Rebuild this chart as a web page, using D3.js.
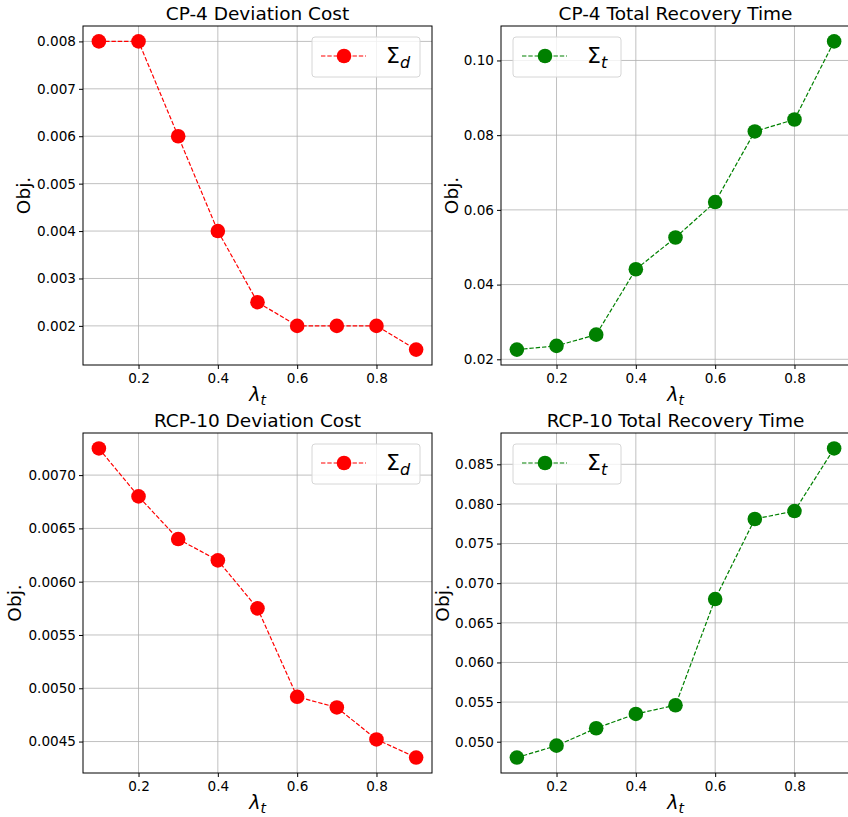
<!DOCTYPE html>
<html>
<head>
<meta charset="utf-8">
<script src="https://cdn.jsdelivr.net/npm/d3@7"></script>
<style>
  body { margin: 0; background: #fff; }
  svg { font-family: "DejaVu Sans", sans-serif; }
  .grid line { stroke: #b0b0b0; stroke-width: 0.8; }
</style>
</head>
<body>
<div id="chart"></div>
<script>
var lambdaValues = [0.1, 0.2, 0.3, 0.4, 0.5, 0.6, 0.7, 0.8, 0.9];
var cp4Deviation = [0.008, 0.008, 0.006, 0.004, 0.0025, 0.002, 0.002, 0.002, 0.0015];
var cp4Recovery = [0.0226, 0.0236, 0.0266, 0.0441, 0.0526, 0.0621, 0.081, 0.0842, 0.1051];
var rcp10Deviation = [0.00725, 0.0068, 0.0064, 0.0062, 0.00575, 0.00492, 0.00482, 0.00452, 0.00435];
var rcp10Recovery = [0.0480, 0.0495, 0.0517, 0.0535, 0.0546, 0.0680, 0.0781, 0.0791, 0.0870];

var xTicks = [0.2, 0.4, 0.6, 0.8];
var cp4DevTicks = [0.002, 0.003, 0.004, 0.005, 0.006, 0.007, 0.008];
var cp4RecTicks = [0.02, 0.04, 0.06, 0.08, 0.10];
var rcp10DevTicks = [0.0045, 0.0050, 0.0055, 0.0060, 0.0065, 0.0070];
var rcp10RecTicks = [0.050, 0.055, 0.060, 0.065, 0.070, 0.075, 0.080, 0.085];

var titles = ['CP-4 Deviation Cost', 'CP-4 Total Recovery Time', 'RCP-10 Deviation Cost', 'RCP-10 Total Recovery Time'];

var W = 848, H = 817;
var svg = d3.select('#chart').append('svg').attr('width', W).attr('height', H);

var panels = [
  {title: titles[0], values: cp4Deviation, ticks: cp4DevTicks, fmt: '.3f', color: 'red', sub: 'd', x0: 83, x1: 432, y0: 26, y1: 365, legend: 'right', labelX: 24},
  {title: titles[1], values: cp4Recovery, ticks: cp4RecTicks, fmt: '.2f', color: 'green', sub: 't', x0: 501, x1: 850, y0: 26, y1: 365, legend: 'left', labelX: 452},
  {title: titles[2], values: rcp10Deviation, ticks: rcp10DevTicks, fmt: '.4f', color: 'red', sub: 'd', x0: 83, x1: 432, y0: 433, y1: 773, legend: 'right', labelX: 15},
  {title: titles[3], values: rcp10Recovery, ticks: rcp10RecTicks, fmt: '.3f', color: 'green', sub: 't', x0: 501, x1: 850, y0: 433, y1: 773, legend: 'left', labelX: 443}
];

function padded(ext) {
  var m = (ext[1] - ext[0]) * 0.05;
  return [ext[0] - m, ext[1] + m];
}

panels.forEach(function(p){
  var x = d3.scaleLinear().domain(padded(d3.extent(lambdaValues))).range([p.x0, p.x1]);
  var y = d3.scaleLinear().domain(padded(d3.extent(p.values))).range([p.y1, p.y0]);
  var g = svg.append('g');

  // grid
  var grid = g.append('g').attr('class', 'grid');
  grid.selectAll('.gx').data(xTicks).enter().append('line')
    .attr('x1', function(d){ return x(d); }).attr('x2', function(d){ return x(d); })
    .attr('y1', p.y0).attr('y2', p.y1);
  grid.selectAll('.gy').data(p.ticks).enter().append('line')
    .attr('y1', function(d){ return y(d); }).attr('y2', function(d){ return y(d); })
    .attr('x1', p.x0).attr('x2', p.x1);

  // axes
  g.append('g').attr('transform', 'translate(0,' + p.y1 + ')')
    .call(d3.axisBottom(x).tickValues(xTicks).tickFormat(d3.format('.1f')).tickSize(4).tickPadding(4))
    .call(function(a){ a.select('.domain').remove(); a.selectAll('.tick line').attr('stroke', '#000'); });
  g.append('g').attr('transform', 'translate(' + p.x0 + ',0)')
    .call(d3.axisLeft(y).tickValues(p.ticks).tickFormat(d3.format(p.fmt)).tickSize(4).tickPadding(3))
    .call(function(a){ a.select('.domain').remove(); a.selectAll('.tick line').attr('stroke', '#000'); });
  g.selectAll('.tick text').attr('font-family', '"DejaVu Sans", sans-serif').attr('font-size', 13.6);

  // line + markers
  var pts = lambdaValues.map(function(l, i){ return [l, p.values[i]]; });
  g.append('path').datum(pts)
    .attr('d', d3.line().x(function(d){ return x(d[0]); }).y(function(d){ return y(d[1]); }))
    .attr('fill', 'none').attr('stroke', p.color).attr('stroke-width', 1.2)
    .attr('stroke-dasharray', '4.4,1.9');
  g.selectAll('.dot').data(pts).enter().append('circle')
    .attr('cx', function(d){ return x(d[0]); })
    .attr('cy', function(d){ return y(d[1]); })
    .attr('r', 7.3).attr('fill', p.color);

  // frame
  g.append('rect').attr('x', p.x0).attr('y', p.y0)
    .attr('width', p.x1 - p.x0).attr('height', p.y1 - p.y0)
    .attr('fill', 'none').attr('stroke', '#000').attr('stroke-width', 1);

  // title
  g.append('text').attr('x', (p.x0 + p.x1) / 2).attr('y', p.y0 - 6)
    .attr('text-anchor', 'middle').attr('font-size', 18.5).text(p.title);

  // axis labels
  var xl = g.append('text').attr('x', (p.x0 + p.x1) / 2).attr('y', p.y1 + 36)
    .attr('text-anchor', 'middle').attr('font-size', 19);
  xl.append('tspan').attr('font-style', 'italic').text('λ');
  xl.append('tspan').attr('font-style', 'italic').attr('font-size', 14).attr('dy', 4).text('t');
  g.append('text').attr('transform', 'translate(' + (p.labelX + 6) + ',' + ((p.y0 + p.y1) / 2) + ') rotate(-90)')
    .attr('text-anchor', 'middle').attr('font-size', 18.5).text('Obj.');

  // legend
  var bw = 108, bh = 40;
  var bx = p.legend === 'right' ? p.x1 - 12 - bw : p.x0 + 12;
  var by = p.y0 + 11;
  var lg = g.append('g').attr('transform', 'translate(' + bx + ',' + by + ')');
  lg.append('rect').attr('width', bw).attr('height', bh).attr('rx', 3)
    .attr('fill', 'rgba(255,255,255,0.8)').attr('stroke', '#d6d6d6').attr('stroke-width', 1);
  lg.append('line').attr('x1', 9).attr('x2', 54).attr('y1', 19).attr('y2', 19)
    .attr('stroke', p.color).attr('stroke-width', 1.2).attr('stroke-dasharray', '4.4,1.9');
  lg.append('circle').attr('cx', 32).attr('cy', 19).attr('r', 7.3).attr('fill', p.color);
  var lt = lg.append('text').attr('x', 74).attr('y', 26).attr('font-size', 22);
  lt.append('tspan').text('Σ');
  lt.append('tspan').attr('font-style', 'italic').attr('font-size', 16).attr('dy', 5).text(p.sub);
});
</script>
</body>
</html>
